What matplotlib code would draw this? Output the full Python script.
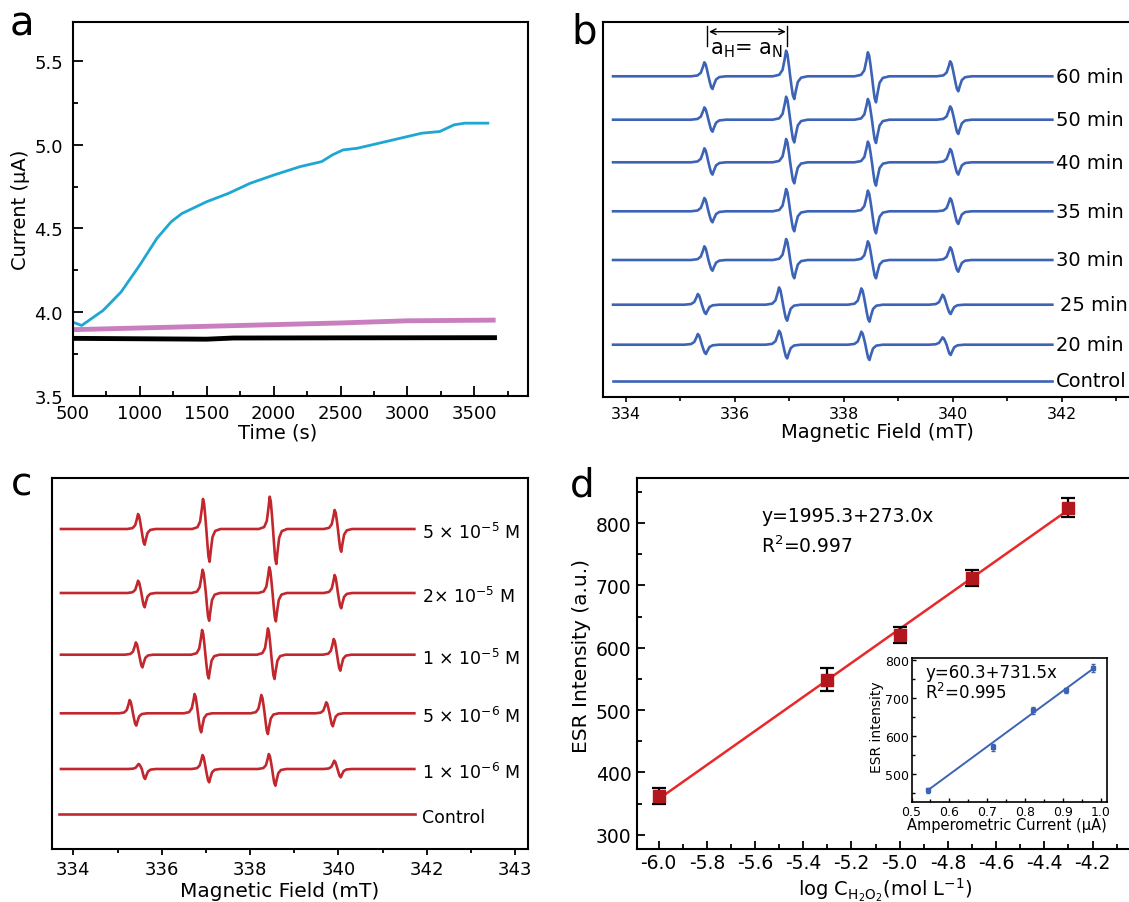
import numpy as np
import matplotlib
matplotlib.use("Agg")
from matplotlib import pyplot as plt
from matplotlib.ticker import MultipleLocator, FixedLocator, FormatStrFormatter

plt.rcParams['font.family'] = ['DejaVu Sans']
plt.rcParams['axes.unicode_minus'] = False
plt.rcParams['mathtext.default'] = 'regular'

# ---------------- panel a : current vs time
time_cyan = [500, 567, 727, 861, 1000, 1128, 1235, 1316, 1422, 1500, 1663, 1824, 2003,
             2198, 2359, 2439, 2519, 2626, 2733, 2840, 3000, 3107, 3241, 3348, 3428, 3600]
cur_cyan = [3.94, 3.92, 4.01, 4.12, 4.28, 4.44, 4.54, 4.59, 4.63, 4.66, 4.71, 4.77, 4.82,
            4.87, 4.90, 4.94, 4.97, 4.98, 5.00, 5.02, 5.05, 5.07, 5.08, 5.12, 5.13, 5.13]
time_pink = [500, 1000, 1500, 2000, 2500, 3000, 3640]
cur_pink = [3.895, 3.905, 3.915, 3.925, 3.935, 3.948, 3.952]
time_black = [500, 1500, 1700, 2500, 3650]
cur_black = [3.843, 3.838, 3.845, 3.846, 3.847]

# ---------------- ESR spectra (b: time series, c: H2O2 concentration)
b_labels = ['60 min', '50 min', '40 min', '35 min', '30 min', '25 min', '20 min', 'Control']
b_offsets = [321, 277.6, 235, 186, 137.3, 92.6, 52.6, 16.6]
b_centers = [[335.52, 337.02, 338.52, 340.03]] * 5 + [[335.40, 336.89, 338.40, 339.89]] * 2 + [[]]
b_up = [[14, 25.6, 24, 15], [12.3, 23, 20.7, 13.3], [14, 23.3, 20.7, 13.3], [13.3, 22.3, 20.7, 13],
        [13.7, 21, 18.7, 12.7], [10.7, 17.3, 16.3, 10], [10.7, 14, 13, 7.3], []]
b_down = [[12.7, 22.7, 26, 15], [12, 22.7, 23.3, 14.3], [12.3, 21, 23.3, 12.3], [11, 20, 22, 12.7],
          [10.7, 18.3, 18.3, 11.7], [9.3, 16, 17, 9.3], [9.3, 13.7, 15.3, 10.3], []]

c_labels = ['5 × 10$^{-5}$ M', '2× 10$^{-5}$ M', '1 × 10$^{-5}$ M', '5 × 10$^{-6}$ M',
            '1 × 10$^{-6}$ M', 'Control']
c_offsets = [320, 256, 194.3, 135.7, 80, 35]
c_centers = [[335.54, 337.01, 338.52, 339.99], [335.54, 337.00, 338.51, 339.99],
             [335.49, 336.99, 338.48, 339.97], [335.35, 336.82, 338.33, 339.80],
             [335.55, 337.00, 338.50, 339.98], []]
c_up = [[15, 30, 32.3, 19], [12.3, 23.3, 25.7, 18], [12.3, 24.7, 26.3, 15.7],
        [13.3, 19.3, 18.3, 11], [5, 14, 15, 8.3], []]
c_down = [[15.7, 32.7, 35, 22.7], [14.3, 27.7, 28.3, 15.3], [12.7, 23.7, 24.3, 16],
          [12.3, 19, 20.7, 13], [10, 13.3, 16.7, 8.3], []]

shape_dx = [-0.32, -0.20, -0.14, -0.10, -0.075, -0.05, -0.025, 0.0, 0.025, 0.05, 0.075, 0.10, 0.14, 0.20, 0.32]
shape_y = [0.0, 0.06, 0.25, 0.68, 1.0, 0.85, 0.45, 0.0, -0.45, -0.85, -1.0, -0.68, -0.25, -0.06, 0.0]

# ---------------- panel d : calibration
logc = [-6.0, -5.3, -5.0, -4.7, -4.3]
esr_int = [362, 549, 621, 712, 825]
esr_err = [13, 19, 13, 13, 15]
fit_a, fit_b = 1995.3, 273.0

amp_cur = [0.544, 0.716, 0.821, 0.909, 0.978]
esr_ins = [457, 570, 667, 720, 778]
err_ins = [6, 10, 8, 7, 10]
ins_a, ins_b = 60.3, 731.5


def esr_trace(centers, up, down, start, end):
    xs = [start]
    ys = [0.0]
    for c, u, d in zip(centers, up, down):
        for dx, s in zip(shape_dx, shape_y):
            xs.append(c + dx)
            ys.append(s * (u if s > 0 else d))
    xs.append(end)
    ys.append(0.0)
    return np.array(xs), np.array(ys)


def style_spines(ax, lw=1.5):
    for sp in ax.spines.values():
        sp.set_linewidth(lw)
        sp.set_color('black')


W, H = 1129, 903
fig = plt.figure(figsize=(W / 100, H / 100), dpi=100)


def rect(left, top, right, bottom):
    return [left / W, 1 - bottom / H, (right - left) / W, (bottom - top) / H]


# ---------- a
ax = fig.add_axes(rect(72.7, 23, 528, 396.7))
style_spines(ax)
ax.plot(time_black, cur_black, color='black', lw=3.5)
ax.plot(time_pink, cur_pink, color='#c97ec0', lw=3.5)
ax.plot(time_cyan, cur_cyan, color='#1ea7d2', lw=2)
ax.set_xlim(500, 3900)
ax.set_ylim(3.5, 5.735)
ax.xaxis.set_major_locator(FixedLocator([500, 1000, 1500, 2000, 2500, 3000, 3500]))
ax.xaxis.set_minor_locator(MultipleLocator(250))
ax.yaxis.set_major_locator(FixedLocator([3.5, 4.0, 4.5, 5.0, 5.5]))
ax.yaxis.set_major_formatter(FormatStrFormatter('%.1f'))
ax.yaxis.set_minor_locator(FixedLocator([3.75, 4.25, 4.75, 5.25]))
ax.tick_params(which='both', direction='in', width=1.3, labelsize=13)
ax.tick_params(which='major', length=7)
ax.tick_params(which='minor', length=3.5)
ax.tick_params(axis='y', pad=7)
ax.tick_params(axis='x', pad=6)
ax.set_xlabel('Time (s)', fontsize=14, va='center')
ax.set_ylabel('Current (µA)', fontsize=14, va='center')
ax.xaxis.set_label_coords(0.45, -0.097)
ax.yaxis.set_label_coords(-0.114, 0.5)

# ---------- b
bx = fig.add_axes(rect(602.7, 22.7, 1133, 398.3))
style_spines(bx)
for lab, off, cen, up, dn in zip(b_labels, b_offsets, b_centers, b_up, b_down):
    xs, ys = esr_trace(cen, up, dn, 333.77, 341.83)
    bx.plot(xs, ys + off, color='#3d63b6', lw=1.9)
    lx = 341.97 if lab == '25 min' else 341.9
    bx.text(lx, off, lab, fontsize=14, va='center', ha='left')
bx.set_xlim(333.58, 343.31)
bx.set_ylim(0, 375.6)
bx.set_yticks([])
bx.xaxis.set_major_locator(MultipleLocator(2))
bx.xaxis.set_minor_locator(MultipleLocator(1))
bx.tick_params(which='both', direction='out', width=1.2, labelsize=11.5, pad=3)
bx.tick_params(which='major', length=3.5)
bx.tick_params(which='minor', length=3)
bx.set_xlabel('Magnetic Field (mT)', fontsize=14, va='center')
bx.xaxis.set_label_coords(0.519, -0.092)
# hyperfine splitting marker
bx.plot([335.5, 335.5], [351.6, 371.6], color='black', lw=1)
bx.plot([336.97, 336.97], [351.6, 371.6], color='black', lw=1)
bx.annotate('', xy=(335.53, 365.6), xytext=(336.94, 365.6),
            arrowprops=dict(arrowstyle='<->', color='black', lw=1, shrinkA=0, shrinkB=0))
bx.text(336.22, 348, 'a$_{H}$= a$_{N}$', fontsize=15, ha='center', va='center')

# ---------- c
cx = fig.add_axes(rect(51.7, 479.3, 528.3, 850))
style_spines(cx)
for lab, off, cen, up, dn in zip(c_labels, c_offsets, c_centers, c_up, c_down):
    start, end = (333.68, 341.74) if lab == 'Control' else (333.72, 341.72)
    xs, ys = esr_trace(cen, up, dn, start, end)
    cx.plot(xs, ys + off, color='#c1272d', lw=1.9)
    cx.text(341.9, off - 3, lab, fontsize=12.5, va='center', ha='left')
cx.set_xlim(333.51, 344.3)
cx.set_ylim(0, 370.7)
cx.set_yticks([])
cx.xaxis.set_major_locator(FixedLocator([334, 336, 338, 340, 342, 344]))
cx.set_xticklabels(['334', '336', '338', '340', '342', '343'])
cx.xaxis.set_minor_locator(FixedLocator([335, 337, 339, 341, 343]))
cx.tick_params(which='both', direction='out', width=1.3, labelsize=13, pad=3.5)
cx.tick_params(which='major', length=4.5)
cx.tick_params(which='minor', length=3)
cx.set_xlabel('Magnetic Field (mT)', fontsize=14.5, va='center')
cx.xaxis.set_label_coords(0.478, -0.1125)

# ---------- d
dx_ = fig.add_axes(rect(637, 479.3, 1133, 850))
style_spines(dx_)
xf = np.array([logc[0], logc[-1]])
dx_.plot(xf, fit_a + fit_b * xf, color='#e8282b', lw=1.8, zorder=2)
dx_.errorbar(logc, esr_int, yerr=esr_err, fmt='s', color='#b3161c', ms=9,
             ecolor='black', elinewidth=1.6, capsize=5, capthick=1.6, zorder=3)
dx_.set_xlim(-6.09, -4.032)
dx_.set_ylim(277, 872)
dx_.xaxis.set_minor_locator(MultipleLocator(0.1))
dx_.yaxis.set_major_locator(MultipleLocator(100))
dx_.yaxis.set_minor_locator(MultipleLocator(50))
dx_.set_xticks([-6.0, -5.8, -5.6, -5.4, -5.2, -5.0, -4.8, -4.6, -4.4, -4.2])
dx_.xaxis.set_major_formatter(FormatStrFormatter('%.1f'))
dx_.tick_params(which='both', direction='in', width=1.3, labelsize=13.5)
dx_.tick_params(which='major', length=6)
dx_.tick_params(which='minor', length=3.5)
dx_.tick_params(axis='y', pad=4)
dx_.tick_params(axis='x', pad=3)
dx_.set_ylabel('ESR Intensity (a.u.)', fontsize=14.5, va='center')
dx_.yaxis.set_label_coords(-0.111, 0.523)
dx_.set_xlabel('log C$_{H_2O_2}$(mol L$^{-1}$)', fontsize=14, va='center')
dx_.xaxis.set_label_coords(0.5, -0.108)
fig.text(761 / W, 1 - 516.7 / H, 'y=1995.3+273.0x', fontsize=13.5, va='center', ha='left')
fig.text(761 / W, 1 - 546.7 / H, 'R$^{2}$=0.997', fontsize=13.5, va='center', ha='left')

# ---------- inset
ix = fig.add_axes(rect(911.5, 659.3, 1107, 803.3))
style_spines(ix, 1.2)
xi = np.array([amp_cur[0], amp_cur[-1]])
ix.plot(xi, ins_a + ins_b * xi, color='#3d63b6', lw=1.4)
ix.errorbar(amp_cur, esr_ins, yerr=err_ins, fmt='s', color='#3d63b6', ms=3.5,
            ecolor='#3d63b6', elinewidth=1, capsize=1.5, capthick=1)
ix.set_xlim(0.5, 1.016)
ix.set_ylim(426, 804)
ix.xaxis.set_major_locator(MultipleLocator(0.1))
ix.xaxis.set_minor_locator(MultipleLocator(0.05))
ix.yaxis.set_major_locator(MultipleLocator(100))
ix.yaxis.set_minor_locator(MultipleLocator(50))
ix.tick_params(which='both', direction='in', width=1, labelsize=9, pad=2)
ix.tick_params(which='major', length=3)
ix.tick_params(which='minor', length=2)
ix.set_ylabel('ESR intensity', fontsize=10, va='center')
ix.yaxis.set_label_coords(-0.176, 0.53)
ix.set_xlabel('Amperometric Current (µA)', fontsize=10.5, va='center')
ix.xaxis.set_label_coords(0.49, -0.151)
fig.text(925 / W, 1 - 673 / H, 'y=60.3+731.5x', fontsize=12, va='center', ha='left')
fig.text(925 / W, 1 - 693 / H, 'R$^{2}$=0.995', fontsize=12, va='center', ha='left')

# panel letters
fig.text(10 / W, 1 - 35 / H, 'a', fontsize=29, va='baseline', ha='left')
fig.text(571 / W, 1 - 43 / H, 'b', fontsize=29, va='baseline', ha='left')
fig.text(11 / W, 1 - 495 / H, 'c', fontsize=28, va='baseline', ha='left')
fig.text(570 / W, 1 - 497 / H, 'd', fontsize=28, va='baseline', ha='left')

fig.savefig('out.png', dpi=100)
